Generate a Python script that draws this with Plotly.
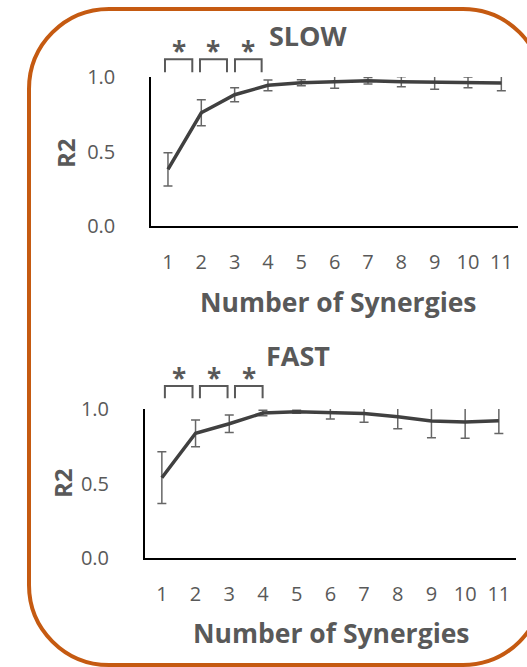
import plotly.graph_objects as go

# ---------------- data ----------------
synergies = [1, 2, 3, 4, 5, 6, 7, 8, 9, 10, 11]
slow_r2 = [0.38, 0.76, 0.881, 0.944, 0.962, 0.966, 0.975, 0.968, 0.964, 0.964, 0.960]
slow_sd = [0.112, 0.087, 0.047, 0.036, 0.02, 0.042, 0.022, 0.034, 0.047, 0.036, 0.052]
fast_r2 = [0.539, 0.837, 0.901, 0.973, 0.982, 0.978, 0.969, 0.948, 0.919, 0.913, 0.921]
fast_sd = [0.174, 0.09, 0.058, 0.018, 0.01, 0.045, 0.058, 0.08, 0.112, 0.11, 0.085]
y_ticks = [0.0, 0.5, 1.0]
y_tick_text = ["0.0", "0.5", "1.0"]
slow_brackets = [(0.91, 1.73), (1.96, 2.77), (3.01, 3.81)]
fast_brackets = [(1.09, 1.91), (2.13, 2.95), (3.17, 3.99)]

W, H = 527, 667
TXT = "#595959"
FONT = "Open Sans"
ORANGE = "#C55A11"


def px(x):
    return x / W


def py(y):
    return 1 - y / H


fig = go.Figure()

for name, vals, sd, xa, ya in [("SLOW", slow_r2, slow_sd, "x", "y"),
                               ("FAST", fast_r2, fast_sd, "x2", "y2")]:
    fig.add_trace(go.Scatter(
        x=synergies, y=vals, mode="lines", name=name, xaxis=xa, yaxis=ya,
        line=dict(color="#404040", width=3.5),
        error_y=dict(type="data", array=sd, visible=True, color="#666666",
                     thickness=1.5, width=4.5),
        showlegend=False))

axis_common_x = dict(range=[0.5, 11.5], tickvals=synergies, showgrid=False, zeroline=False,
                     showline=True, linecolor="black", linewidth=2, ticks="outside",
                     ticklen=17, tickcolor="rgba(0,0,0,0)", automargin=False,
                     tickfont=dict(family=FONT, size=20, color=TXT))
axis_common_y = dict(range=[0, 1], tickvals=y_ticks, ticktext=y_tick_text, showgrid=False,
                     zeroline=False, showline=True, linecolor="black", linewidth=2,
                     ticks="outside", ticklen=30, tickcolor="rgba(0,0,0,0)", automargin=False,
                     tickfont=dict(family=FONT, size=20, color=TXT))

fig.update_layout(
    width=W, height=H, margin=dict(l=0, r=0, t=0, b=0, pad=0), autosize=False,
    paper_bgcolor="white", plot_bgcolor="rgba(0,0,0,0)",
    xaxis=dict(domain=[px(151.3), px(518)], anchor="y", **axis_common_x),
    yaxis=dict(domain=[py(226), py(77)], anchor="x", **axis_common_y),
    xaxis2=dict(domain=[px(145), px(515.7)], anchor="y2", **axis_common_x),
    yaxis2=dict(domain=[py(558), py(409)], anchor="x2", **axis_common_y),
)

annotations = []
shapes = []


def add_text(text, x, y, size, xref="paper", yref="paper", angle=0, bold=True):
    annotations.append(dict(
        text=f"<b>{text}</b>" if bold else text, x=x, y=y, xref=xref, yref=yref,
        showarrow=False, textangle=angle, xanchor="center", yanchor="middle",
        font=dict(family=FONT, size=size, color=TXT)))


# titles and axis labels
add_text("SLOW", px(308), py(36), 27)
add_text("FAST", px(298), py(355), 27)
add_text("Number of Synergies", px(338), py(302), 26.5)
add_text("Number of Synergies", px(331), py(633), 26.5)
add_text("R2", px(66), py(153), 24, angle=-90)
add_text("R2", px(62), py(483), 24, angle=-90)

# significance brackets
for brackets, xr, top, bot, star_y in [(slow_brackets, "x", 59.3, 72.3, 51),
                                       (fast_brackets, "x2", 386, 398.3, 378)]:
    for a, b in brackets:
        shapes.append(dict(
            type="path", xref=xr, yref="paper",
            path=f"M {a},{py(bot)} L {a},{py(top)} L {b},{py(top)} L {b},{py(bot)}",
            line=dict(color=TXT, width=2)))
        add_text("*", (a + b) / 2, py(star_y), 26, xref=xr)

# rounded orange frame
L, T, R, B, r = 29, 9, 543, 665, 80
k = 0.5523 * r
path = (f"M {px(L + r)},{py(T)} L {px(R - r)},{py(T)} "
        f"C {px(R - r + k)},{py(T)} {px(R)},{py(T + r - k)} {px(R)},{py(T + r)} "
        f"L {px(R)},{py(B - r)} "
        f"C {px(R)},{py(B - r + k)} {px(R - r + k)},{py(B)} {px(R - r)},{py(B)} "
        f"L {px(L + r)},{py(B)} "
        f"C {px(L + r - k)},{py(B)} {px(L)},{py(B - r + k)} {px(L)},{py(B - r)} "
        f"L {px(L)},{py(T + r)} "
        f"C {px(L)},{py(T + r - k)} {px(L + r - k)},{py(T)} {px(L + r)},{py(T)} Z")
shapes.append(dict(type="path", xref="paper", yref="paper", path=path,
                   line=dict(color=ORANGE, width=4), layer="below"))

fig.update_layout(annotations=annotations, shapes=shapes)
fig.write_html("out.html", config={"displayModeBar": False},
               post_script="document.body.style.margin='0';document.body.style.overflow='hidden';")
